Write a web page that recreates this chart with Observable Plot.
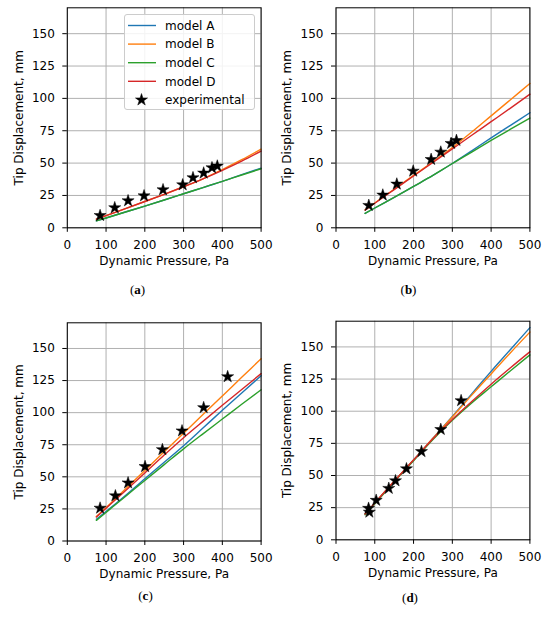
<!DOCTYPE html>
<html>
<head>
<meta charset="utf-8">
<script src="https://cdn.jsdelivr.net/npm/d3@7"></script>
<script src="https://cdn.jsdelivr.net/npm/@observablehq/plot@0.6"></script>
<style>
  html, body { margin: 0; padding: 0; background: #fff; }
  #root { position: relative; width: 550px; height: 618px; overflow: hidden; background: #fff; }
  .panel { position: absolute; width: 275px; height: 275px; }
  .cap { position: absolute; font-family: "Liberation Serif", "DejaVu Serif", serif; font-size: 13px; transform: translate(-50%, -50%); white-space: nowrap; }
  .legend { position: absolute; left: 124px; top: 14px; width: 131px; height: 96px; box-sizing: border-box;
            border: 1px solid #cccccc; border-radius: 3px; background: rgba(255,255,255,0.85);
            font-family: "DejaVu Sans", sans-serif; font-size: 12px; }
</style>
</head>
<body>
<div id="root"></div>
<script>
// ---------- data ----------
const seriesNames = ["model A", "model B", "model C", "model D"];
const seriesColors = ["#1f77b4", "#ff7f0e", "#2ca02c", "#d62728"];
const expName = "experimental";
const xLabel = "Dynamic Pressure, Pa";
const yLabel = "Tip Displacement, mm";
const xTicks = [0, 100, 200, 300, 400, 500];
const yTicks = [0, 25, 50, 75, 100, 125, 150];
const panelLabels = ["a", "b", "c", "d"];

const modelX = [75, 100, 150, 200, 250, 300, 350, 400, 450, 500];

// panel (a)
const aA = [5.4, 7.6, 12.2, 16.8, 21.5, 26.3, 31.1, 35.9, 41.1, 46.1];
const aB = [6.7, 9.4, 14.8, 20.3, 25.9, 31.7, 37.8, 45.0, 52.6, 60.8];
const aC = [5.4, 7.6, 12.2, 16.8, 21.5, 26.3, 31.1, 35.9, 40.8, 45.6];
const aD = [6.7, 9.4, 14.8, 20.3, 25.9, 31.7, 37.8, 44.4, 51.5, 59.3];
const aExpX = [84.6, 122.4, 156.8, 198, 247, 297.7, 324.3, 351.8, 373.3, 387];
const aExpY = [9.5, 15.5, 20.9, 24.7, 29.4, 33.2, 38.7, 42.3, 46.4, 47.7];

// panel (b)
const bA = [11.1, 15.3, 23.5, 32, 40.5, 49.7, 59.5, 69.5, 79.2, 88.9];
const bB = [13.9, 19.2, 29.8, 40.5, 51, 62, 74, 86.5, 99, 111.5];
const bC = [11.1, 15.3, 23.5, 32, 40.5, 49.7, 58.5, 67.5, 76.2, 84.8];
const bD = [13.7, 19, 29.5, 40, 50.5, 61, 71.5, 82, 92.5, 103.3];
const bExpX = [84.6, 120.7, 156.8, 199, 245.3, 270.2, 296.8, 310.6];
const bExpY = [17.3, 25.3, 33.8, 43.8, 52.8, 58.5, 65.2, 67.5];

// panel (c)
const cA = [17, 23, 35.5, 48.5, 61.3, 74.2, 88, 101.8, 115.3, 128.8];
const cB = [19, 26, 40.5, 55, 69.5, 84, 98.5, 113, 127.5, 142];
const cC = [16.1, 22.3, 34.7, 47.2, 59.5, 71.8, 83.5, 95, 106.5, 117.8];
const cD = [18.7, 25.5, 39.2, 53, 67, 80.5, 93.2, 105.7, 118, 130.4];
const cExpX = [84.6, 124.1, 156.8, 200.6, 245.3, 296, 351.8, 413.7];
const cExpY = [25.6, 35.2, 45.3, 58, 71.2, 85.8, 103.9, 128];

// panel (d)
const dA = [20, 28.5, 45.5, 62, 79, 96, 113.5, 131, 148, 165];
const dB = [20, 28.5, 45.5, 62, 79, 95.5, 112.5, 129, 145.5, 161.5];
const dC = [19.5, 28, 45, 61.5, 78, 93, 106.5, 119, 131.5, 143.8];
const dD = [20, 28.5, 45.5, 62, 78.5, 93.5, 107.5, 121, 133.8, 146.2];
const dExpX = [84, 86, 103.6, 136.1, 153.4, 181.7, 220.4, 270.2, 322.6];
const dExpY = [24.5, 21.5, 30.7, 40, 45.9, 55.2, 68.6, 85.8, 108.2];

// ---------- layout ----------
const layouts = [
  {left: 0,   top: 0,   mL: 66.8, mR: 14.4, mT: 7.3,  mB: 47.7, capX: 137.5, capY: 290},
  {left: 275, top: 0,   mL: 60.5, mR: 20.6, mT: 7.3,  mB: 47.7, capX: 408.5, capY: 290},
  {left: 0,   top: 312, mL: 66.8, mR: 14.4, mT: 10.3, mB: 46.5, capX: 145.5, capY: 596},
  {left: 275, top: 312, mL: 60.5, mR: 20.6, mT: 8.7,  mB: 47.7, capX: 410,   capY: 598}
];
const panelData = [
  {models: [aA, aB, aC, aD], ex: aExpX, ey: aExpY},
  {models: [bA, bB, bC, bD], ex: bExpX, ey: bExpY},
  {models: [cA, cB, cC, cD], ex: cExpX, ey: cExpY},
  {models: [dA, dB, dC, dD], ex: dExpX, ey: dExpY}
];

const root = document.getElementById("root");

panelData.forEach((p, i) => {
  const L = layouts[i];
  const rows = [];
  p.models.forEach((arr, s) => arr.forEach((v, k) => rows.push({x: modelX[k], y: v, series: seriesNames[s]})));
  const exp = p.ex.map((x, k) => ({x, y: p.ey[k]}));

  const chart = Plot.plot({
    width: 275, height: 275,
    marginLeft: L.mL, marginRight: L.mR, marginTop: L.mT, marginBottom: L.mB,
    style: {fontFamily: "DejaVu Sans, sans-serif", fontSize: "12px", color: "#000", background: "transparent", overflow: "visible"},
    x: {domain: [0, 500]},
    y: {domain: [0, 170]},
    color: {domain: seriesNames, range: seriesColors},
    marks: [
      Plot.gridX({ticks: xTicks, stroke: "#b0b0b0", strokeOpacity: 1, strokeWidth: 1}),
      Plot.gridY({ticks: yTicks, stroke: "#b0b0b0", strokeOpacity: 1, strokeWidth: 1}),
      Plot.line(rows, {x: "x", y: "y", z: "series", stroke: "series", strokeWidth: 1.4, curve: "monotone-x"}),
      Plot.dot(exp, {x: "x", y: "y", symbol: "star", fill: "black", stroke: "black", strokeWidth: 0.5, r: 3.8}),
      Plot.frame({stroke: "black", strokeWidth: 1}),
      Plot.axisX({ticks: xTicks, tickSize: 4.5, tickPadding: 8, label: null, fontSize: 12}),
      Plot.axisY({ticks: yTicks, tickSize: 4.5, tickPadding: 8, label: null, fontSize: 12}),
      Plot.text([xLabel], {text: d => d, frameAnchor: "bottom", dy: 33.3, lineAnchor: "middle", textAnchor: "middle", fontSize: 12}),
      Plot.text([yLabel], {text: d => d, frameAnchor: "left", dx: -48.5, rotate: -90, lineAnchor: "middle", textAnchor: "middle", fontSize: 12})
    ]
  });

  const div = document.createElement("div");
  div.className = "panel";
  div.style.left = L.left + "px";
  div.style.top = L.top + "px";
  div.appendChild(chart);
  root.appendChild(div);

  const cap = document.createElement("div");
  cap.className = "cap";
  cap.style.left = L.capX + "px";
  cap.style.top = L.capY + "px";
  cap.innerHTML = "(<b>" + panelLabels[i] + "</b>)";
  root.appendChild(cap);
});

// ---------- legend (panel a) ----------
const legend = document.createElement("div");
legend.className = "legend";
const entries = seriesNames.map((n, i) => ({name: n, color: seriesColors[i], star: false}))
  .concat([{name: expName, color: "black", star: true}]);
const rowH = 18.6;
let html = '<svg width="131" height="96" style="position:absolute;left:0;top:0;overflow:visible">';
const star = d3.symbol(d3.symbolStar, Math.PI * 3.8 * 3.8)();
entries.forEach((e, i) => {
  const cy = 10.5 + i * rowH;
  if (e.star) {
    html += `<path d="${star}" transform="translate(16.5,${cy})" fill="black" stroke="black" stroke-width="0.5"/>`;
  } else {
    html += `<line x1="3" x2="31" y1="${cy}" y2="${cy}" stroke="${e.color}" stroke-width="1.4"/>`;
  }
  html += `<text x="40" y="${cy}" dy="0.36em" font-family="DejaVu Sans" font-size="12" fill="black">${e.name}</text>`;
});
html += '</svg>';
legend.innerHTML = html;
root.appendChild(legend);
</script>
</body>
</html>
